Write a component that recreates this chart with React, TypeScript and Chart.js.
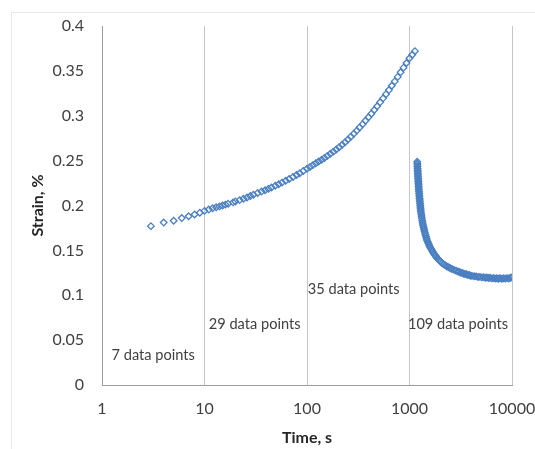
import React, { useEffect, useRef } from "react";
import { Chart, registerables } from "chart.js";

Chart.register(...registerables);

// Loading (creep) phase: time in s, strain in %
const loadTime = [
  3, 4, 5, 6, 7, 8, 9,
  10, 11, 12, 13, 14, 15, 16, 17, 19, 20, 22, 24, 26, 28, 30, 33, 36, 39, 42, 45, 49, 53, 57, 62, 67, 73, 79, 85, 92,
  100, 107, 114, 122, 130, 139, 148, 158, 169, 181, 193, 206, 220, 235, 251, 268, 286, 306, 326, 349, 372, 398, 425,
  453, 484, 517, 552, 590, 630, 672, 718, 767, 819, 875, 934,
  1000, 1065, 1130,
];
const loadStrain = [
  0.177, 0.181, 0.183, 0.186, 0.188, 0.19, 0.192,
  0.194, 0.1955, 0.197, 0.198, 0.199, 0.2, 0.201, 0.202, 0.2035, 0.2045, 0.206, 0.2075, 0.209, 0.2105, 0.212, 0.214,
  0.2155, 0.217, 0.2185, 0.22, 0.222, 0.2237, 0.2255, 0.2275, 0.2295, 0.2318, 0.234, 0.236, 0.2385,
  0.241, 0.243, 0.245, 0.247, 0.249, 0.251, 0.253, 0.2553, 0.2576, 0.26, 0.2625, 0.265, 0.2677, 0.2705, 0.2735, 0.2767,
  0.28, 0.2834, 0.287, 0.2906, 0.2944, 0.2983, 0.3023, 0.3064, 0.3106, 0.315, 0.3194, 0.324, 0.3286, 0.3334, 0.3383,
  0.3433, 0.3484, 0.3536, 0.3588,
  0.364, 0.368, 0.372,
];

// Recovery phase
const recoveryTime = [
  1189, 1191, 1194, 1196, 1199, 1201, 1203, 1206,
  1208, 1211, 1214, 1216, 1219, 1222, 1225, 1227,
  1230, 1234, 1238, 1242, 1246, 1250, 1254,
  1258, 1263, 1268, 1273, 1277, 1282, 1287,
  1292, 1301, 1310, 1319, 1328,
  1337, 1349, 1361, 1374, 1386,
  1398, 1414, 1430, 1447, 1463,
  1479, 1505, 1531, 1556,
  1582, 1615, 1647, 1680,
  1712, 1752, 1793, 1833,
  1873, 1939, 2006,
  2072, 2154, 2236,
  2318, 2410, 2503,
  2595, 2720, 2845,
  2970, 3071, 3172, 3273, 3374,
  3475, 3594, 3712, 3831, 3949,
  4068, 4269, 4469, 4670,
  4870, 5075, 5280, 5484, 5689, 5894,
  6099, 6355, 6612, 6868, 7124, 7381,
  7637, 7962, 8288, 8613,
  8938, 9292, 9646, 10000,
];
const recoveryStrain = [
  0.2487, 0.2468, 0.245, 0.2431, 0.2413, 0.2394, 0.2376, 0.2357,
  0.2339, 0.2321, 0.2303, 0.2285, 0.2267, 0.2248, 0.223, 0.2212,
  0.2194, 0.2175, 0.2156, 0.2137, 0.2118, 0.2098, 0.2079,
  0.206, 0.2041, 0.2022, 0.2003, 0.1984, 0.1965, 0.1946,
  0.1927, 0.1905, 0.1882, 0.186, 0.1837,
  0.1815, 0.1795, 0.1775, 0.1755, 0.1735,
  0.1715, 0.1695, 0.1675, 0.1655, 0.1635,
  0.1615, 0.1596, 0.1576, 0.1557,
  0.1537, 0.152, 0.1504, 0.1487,
  0.147, 0.1455, 0.144, 0.1424,
  0.1409, 0.1392, 0.1376,
  0.1359, 0.1346, 0.1333,
  0.132, 0.1311, 0.1301,
  0.1292, 0.1283, 0.1273,
  0.1264, 0.126, 0.1251, 0.1249, 0.124,
  0.1236, 0.1234, 0.1226, 0.1225, 0.1218,
  0.1216, 0.1211, 0.121, 0.1204,
  0.1205, 0.1199, 0.1202, 0.1195, 0.1198, 0.1192,
  0.1195, 0.1188, 0.1192, 0.1185, 0.119, 0.1184,
  0.1189, 0.1183, 0.119, 0.1185,
  0.1191, 0.1187, 0.1195, 0.1197,
];

const xTickValues = [1, 10, 100, 1000, 10000];
const xTickLabels = ["1", "10", "100", "1000", "10000"];
const yTickValues = [0, 0.05, 0.1, 0.15, 0.2, 0.25, 0.3, 0.35, 0.4];
const yTickLabels = ["0", "0.05", "0.1", "0.15", "0.2", "0.25", "0.3", "0.35", "0.4"];

const noteTexts = ["7 data points", "29 data points", "35 data points", "109 data points"];
const noteTimes = [1.24, 11.0, 101.8, 965];
const noteStrains = [0.0334, 0.068, 0.107, 0.068];

const FONT = "Lato, 'Open Sans', sans-serif";
const MARKER = "#4a7fc1";

const notesPlugin = {
  id: "notes",
  beforeDraw(chart: any) {
    const ctx = chart.ctx;
    ctx.save();
    ctx.fillStyle = "#ffffff";
    ctx.fillRect(0, 0, chart.width, chart.height);
    ctx.strokeStyle = "#e6e6e6";
    ctx.lineWidth = 1;
    ctx.beginPath();
    ctx.moveTo(11.5, chart.height);
    ctx.lineTo(11.5, 12.5);
    ctx.lineTo(chart.width, 12.5);
    ctx.stroke();
    ctx.restore();
  },
  afterDatasetsDraw(chart: any) {
    const { ctx, scales } = chart;
    const x = scales.x;
    const y = scales.y;
    ctx.save();
    ctx.font = `14.6px ${FONT}`;
    ctx.fillStyle = "#404040";
    ctx.textAlign = "left";
    ctx.textBaseline = "middle";
    noteTexts.forEach((t, i) => {
      ctx.fillText(t, x.getPixelForValue(noteTimes[i]), y.getPixelForValue(noteStrains[i]));
    });
    ctx.restore();
  },
};

export default function App() {
  const canvasRef = useRef<HTMLCanvasElement | null>(null);

  useEffect(() => {
    const canvas = canvasRef.current;
    if (!canvas) return;
    const loadPoints = loadTime.map((t, i) => ({ x: t, y: loadStrain[i] }));
    const recoveryPoints = recoveryTime.map((t, i) => ({ x: t, y: recoveryStrain[i] }));
    const pointStyle = {
      showLine: false,
      pointStyle: "rectRot",
      pointRadius: 3.3,
      pointBorderWidth: 1.3,
      pointBorderColor: MARKER,
      pointBackgroundColor: "rgba(255,255,255,0)",
      borderColor: MARKER,
      backgroundColor: "rgba(255,255,255,0)",
    };
    const chart = new Chart(canvas, {
      type: "scatter",
      data: {
        datasets: [
          { label: "Loading", data: loadPoints, ...pointStyle } as any,
          { label: "Recovery", data: recoveryPoints, ...pointStyle } as any,
        ],
      },
      options: {
        responsive: false,
        animation: false,
        layout: { padding: { left: 0, right: 23, top: 26, bottom: 0 } },
        plugins: {
          legend: { display: false },
          tooltip: { enabled: false },
        },
        scales: {
          x: {
            type: "logarithmic",
            min: 1,
            max: 10000,
            position: "bottom",
            afterBuildTicks: (s: any) => {
              s.ticks = xTickValues.map((v) => ({ value: v }));
            },
            afterFit: (s: any) => {
              s.height = 64;
              s.paddingLeft = 0;
              s.paddingRight = 0;
            },
            ticks: {
              autoSkip: false,
              maxRotation: 0,
              padding: 14,
              color: "#404040",
              font: { family: FONT, size: 16 },
              callback: (v: any) => {
                const idx = xTickValues.indexOf(Number(v));
                return idx >= 0 ? xTickLabels[idx] : "";
              },
            },
            grid: { color: "#c6c6c6", lineWidth: 1, drawTicks: false },
            border: { display: true, color: "#9c9c9c" },
            title: {
              display: true,
              text: "Time, s",
              color: "#262626",
              font: { family: FONT, size: 16, weight: "bold" },
              padding: { top: 0, bottom: 2 },
            },
          } as any,
          y: {
            type: "linear",
            min: 0,
            max: 0.4,
            afterBuildTicks: (s: any) => {
              s.ticks = yTickValues.map((v) => ({ value: v }));
            },
            afterFit: (s: any) => {
              s.width = 102;
              s.paddingTop = 0;
              s.paddingBottom = 0;
            },
            ticks: {
              padding: 18,
              color: "#404040",
              font: { family: FONT, size: 16 },
              callback: (_v: any, i: number) => yTickLabels[i],
            },
            grid: { display: false, drawTicks: false },
            border: { display: true, color: "#9c9c9c" },
            title: {
              display: true,
              text: "Strain, %",
              color: "#262626",
              font: { family: FONT, size: 16, weight: "bold" },
              padding: { top: 28, bottom: 0 },
            },
          } as any,
        },
      },
      plugins: [notesPlugin],
    });
    return () => chart.destroy();
  }, []);

  return (
    <div style={{ position: "absolute", left: 0, top: 0, width: 535, height: 449 }}>
      <canvas ref={canvasRef} width={535} height={449} style={{ display: "block" }} />
    </div>
  );
}
